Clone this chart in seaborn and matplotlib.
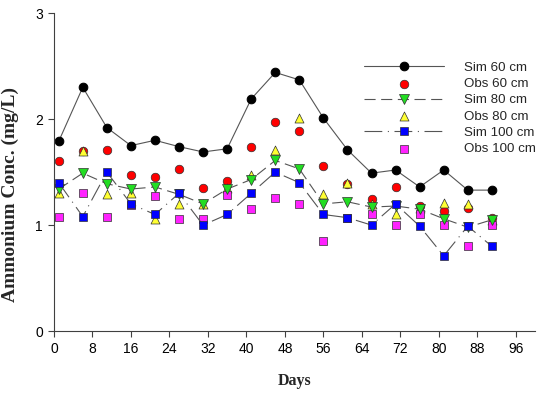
import matplotlib
matplotlib.use("Agg")
import matplotlib.pyplot as plt
import seaborn as sns
import pandas as pd

# ---------------------------------------------------------------------------
# Data (days after start, ammonium in mg/L)
# ---------------------------------------------------------------------------
days = [1, 6, 11, 16, 21, 26, 31, 36, 41, 46, 51, 56, 61, 66, 71, 76, 81, 86, 91]

sim_60 = [1.79, 2.30, 1.92, 1.75, 1.80, 1.74, 1.69, 1.72, 2.19, 2.44,
          2.37, 2.01, 1.71, 1.49, 1.52, 1.36, 1.52, 1.33, 1.33]
obs_60 = [1.60, 1.70, 1.71, 1.47, 1.45, 1.53, 1.35, 1.42, 1.74, 1.97,
          1.89, 1.56, 1.39, 1.25, 1.36, 1.18, 1.13, 1.16, 1.07]
sim_80 = [1.34, 1.49, 1.39, 1.34, 1.36, 1.29, 1.20, 1.34, 1.43, 1.61,
          1.53, 1.20, 1.22, 1.17, 1.18, 1.15, 1.06, 0.98, 1.05]
obs_80 = [1.30, 1.70, 1.29, 1.30, 1.06, 1.20, 1.20, 1.35, 1.47, 1.71,
          2.01, 1.29, 1.40, 1.20, 1.10, 1.16, 1.21, 1.20, 1.05]
sim_100 = [1.40, 1.08, 1.50, 1.20, 1.10, 1.30, 1.00, 1.10, 1.30, 1.50,
           1.40, 1.10, 1.07, 1.00, 1.20, 0.99, 0.71, 0.99, 0.80]
obs_100 = [1.08, 1.30, 1.08, 1.19, 1.27, 1.06, 1.06, 1.28, 1.15, 1.26,
           1.20, 0.85, 1.07, 1.10, 1.00, 1.10, 1.00, 0.80, 1.00]

df = pd.DataFrame({"Days": days, "Sim60": sim_60, "Obs60": obs_60,
                   "Sim80": sim_80, "Obs80": obs_80,
                   "Sim100": sim_100, "Obs100": obs_100})

LINE_COL = "#555555"
EDGE = "#303030"

sns.set_style("ticks")
plt.rcParams["font.family"] = ["Liberation Sans", "DejaVu Sans"]

fig = plt.figure(figsize=(5.5, 3.97), dpi=100)
ax = fig.add_axes([0.098, 0.166, 0.875, 0.801])

# series drawn in legend order so later ones sit on top
sns.lineplot(data=df, x="Days", y="Sim60", ax=ax, color=LINE_COL, lw=0.8,
             linestyle="-", marker="o", markersize=6.2, markerfacecolor="black",
             markeredgecolor="black", label="Sim 60 cm")
sns.scatterplot(data=df, x="Days", y="Obs60", ax=ax, marker="o", s=38,
                color="#ff0000", edgecolor=EDGE, linewidth=0.5, label="Obs 60 cm")
sns.lineplot(data=df, x="Days", y="Sim80", ax=ax, color=LINE_COL, lw=0.8,
             linestyle=(0, (10, 5)), marker="v", markersize=6.5,
             markerfacecolor="#22dd22", markeredgecolor=EDGE,
             markeredgewidth=0.5, label="Sim 80 cm")
sns.scatterplot(data=df, x="Days", y="Obs80", ax=ax, marker="^", s=42,
                color="#ffff33", edgecolor=EDGE, linewidth=0.5, label="Obs 80 cm")
sns.lineplot(data=df, x="Days", y="Sim100", ax=ax, color=LINE_COL, lw=0.8,
             linestyle=(0, (16, 5, 1, 5)), marker="s", markersize=5.8,
             markerfacecolor="#0000ff", markeredgecolor=EDGE,
             markeredgewidth=0.5, label="Sim 100 cm")
sns.scatterplot(data=df, x="Days", y="Obs100", ax=ax, marker="s", s=32,
                color="#ff22ff", edgecolor=EDGE, linewidth=0.5, label="Obs 100 cm")

ax.set_xlim(0, 100)
ax.set_ylim(0, 3)
ax.set_xticks(range(0, 97, 8))
ax.set_yticks([0, 1, 2, 3])
ax.tick_params(axis="both", direction="out", length=4, width=0.8,
               color="#404040", labelsize=10, labelcolor="black", pad=4)
for side in ["left", "bottom"]:
    ax.spines[side].set_color("#404040")
    ax.spines[side].set_linewidth(0.8)
sns.despine(ax=ax)

ax.set_xlabel("Days", family="Liberation Serif", fontweight="bold",
              fontsize=11.5, labelpad=12)
ax.set_ylabel("Ammonium Conc. (mg/L)", family="Liberation Serif",
              fontweight="bold", fontsize=14)
ax.yaxis.set_label_coords(-0.072, 0.43)

ax.legend(loc="upper left", bbox_to_anchor=(0.650, 0.862),
          bbox_transform=fig.transFigure, frameon=False, fontsize=9.6,
          handlelength=6.0, handletextpad=1.45, labelspacing=0.3,
          borderpad=0, markerscale=1.0)

fig.savefig("out.png", dpi=100)
